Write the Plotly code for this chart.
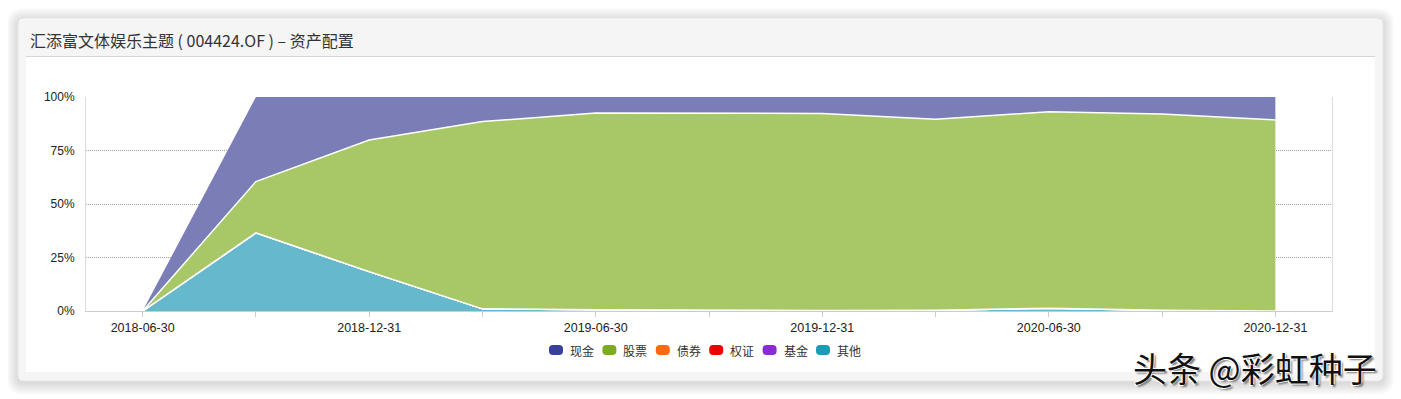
import plotly.graph_objects as go

# ---------------- data ----------------
dates = ["2018-06-30", "2018-09-30", "2018-12-31", "2019-03-31", "2019-06-30", "2019-09-30",
         "2019-12-31", "2020-03-31", "2020-06-30", "2020-09-30", "2020-12-31"]
tick_labels = ["2018-06-30", "", "2018-12-31", "", "2019-06-30", "", "2019-12-31", "",
               "2020-06-30", "", "2020-12-31"]
other = [0, 36.5, 18.4, 1.0, 0.6, 0.3, 0.2, 0.3, 1.3, 0.3, 0.0]
fund = [0, 0, 0, 0, 0, 0, 0, 0, 0, 0, 0]
warrant = [0, 0, 0, 0, 0, 0, 0, 0, 0, 0, 0]
bond = [0, 0, 0, 0, 0, 0, 0, 0, 0, 0, 0]
stock = [0, 24.0, 61.5, 87.5, 91.9, 92.0, 92.1, 89.3, 91.8, 91.8, 89.3]
cash = [0, 39.5, 20.1, 11.5, 7.5, 7.7, 7.7, 10.4, 6.9, 7.9, 10.7]

legend_names = ["现金", "股票", "债券", "权证", "基金", "其他"]
legend_colors = ["#3a3f9c", "#7cac1e", "#ff6a10", "#ee0000", "#8a2bd8", "#1b9cb6"]
fill_colors = {"现金": "#7b7db7", "股票": "#a8c766", "债券": "#ffa670",
               "权证": "#f56666", "基金": "#b980e6", "其他": "#66b8cd"}
y_ticks = [0, 25, 50, 75, 100]
y_tick_labels = ["0%", "25%", "50%", "75%", "100%"]

title_text = "汇添富文体娱乐主题 ( 004424.OF ) – 资产配置"
watermark = "头条 @彩虹种子"

# ---------------- geometry (page pixels) ----------------
OFF = 8  # page body margin
W, H = 1401 - OFF, 399 - OFF
PX0, PX1, PY0, PY1 = 86, 1332, 97, 311  # plot area in page pixels


def fx(px):
    return (px - PX0) / (PX1 - PX0)


def fy(py):
    return (PY1 - py) / (PY1 - PY0)


def rrect(x0, y0, x1, y1, r):
    pts = [
        f"M {fx(x0 + r)},{fy(y0)}", f"L {fx(x1 - r)},{fy(y0)}",
        f"Q {fx(x1)},{fy(y0)} {fx(x1)},{fy(y0 + r)}", f"L {fx(x1)},{fy(y1 - r)}",
        f"Q {fx(x1)},{fy(y1)} {fx(x1 - r)},{fy(y1)}", f"L {fx(x0 + r)},{fy(y1)}",
        f"Q {fx(x0)},{fy(y1)} {fx(x0)},{fy(y1 - r)}", f"L {fx(x0)},{fy(y0 + r)}",
        f"Q {fx(x0)},{fy(y0)} {fx(x0 + r)},{fy(y0)}", "Z",
    ]
    return " ".join(pts)


FONT = "Liberation Sans, Noto Sans CJK SC, sans-serif"

fig = go.Figure()

stack_order = [("其他", other), ("基金", fund), ("权证", warrant), ("债券", bond),
               ("股票", stock), ("现金", cash)]
for name, vals in stack_order:
    fig.add_trace(go.Scatter(
        x=dates, y=vals, name=name, stackgroup="one", mode="lines",
        line=dict(color="white", width=1.5 if name != "现金" else 0),
        fillcolor=fill_colors[name], showlegend=False,
        hovertemplate=name + ": %{y}%<extra></extra>",
    ))

shapes = []
# soft card shadow
for d in range(12, 0, -1):
    shapes.append(dict(type="path", xref="paper", yref="paper",
                       path=rrect(18 - d, 18 - d + 2, 1383 + d, 381 + d + 2, 6 + d),
                       line=dict(width=0), fillcolor="rgba(0,0,0,0.010)", layer="below"))
# card body
shapes.append(dict(type="path", xref="paper", yref="paper",
                   path=rrect(18, 18, 1383, 381, 6),
                   line=dict(color="#e6e6e6", width=1), fillcolor="#f5f5f5", layer="below"))
# header separator
shapes.append(dict(type="line", xref="paper", yref="paper",
                   x0=fx(26), x1=fx(1375), y0=fy(56.5), y1=fy(56.5),
                   line=dict(color="#d6d6d6", width=1), layer="below"))
# inner white panel
shapes.append(dict(type="rect", xref="paper", yref="paper",
                   x0=fx(26), x1=fx(1375), y0=fy(372), y1=fy(57),
                   line=dict(width=0), fillcolor="#ffffff", layer="below"))

annotations = [
    dict(text=title_text, xref="paper", yref="paper", x=fx(28), y=fy(40),
         xanchor="left", yanchor="middle", showarrow=False,
         font=dict(family="Noto Sans CJK SC, sans-serif", size=16, color="#333333")),
    dict(text=watermark, xref="paper", yref="paper", x=fx(1131), y=fy(367),
         xanchor="left", yanchor="middle", showarrow=False,
         font=dict(family="Noto Sans CJK SC, sans-serif", size=34, color="#111111",
                   shadow="-1px -1px 0 #fff, 1px -1px 0 #fff, -1px 1px 0 #fff, 2px 2px 2px #777")),
]

# custom legend
lx0, lstep, ly = 549, 53.4, 350
for i, (nm, col) in enumerate(zip(legend_names, legend_colors)):
    x = lx0 + i * lstep
    shapes.append(dict(type="path", xref="paper", yref="paper",
                       xsizemode="pixel", ysizemode="pixel",
                       xanchor=fx(x), yanchor=fy(ly),
                       path="M 4 -5 L 10 -5 Q 14 -5 14 -1 L 14 1 Q 14 5 10 5 L 4 5 Q 0 5 0 1 L 0 -1 Q 0 -5 4 -5 Z",
                       fillcolor=col, line=dict(width=0)))
    annotations.append(dict(text=nm, xref="paper", yref="paper", x=fx(x + 19), y=fy(ly),
                            xanchor="left", yanchor="middle", showarrow=False,
                            font=dict(family="Noto Sans CJK SC, sans-serif", size=12, color="#333333")))

fig.update_layout(
    width=W, height=H, autosize=False,
    margin=dict(l=PX0 - OFF, r=1401 - PX1, t=PY0 - OFF, b=399 - PY1, pad=0),
    paper_bgcolor="#ffffff", plot_bgcolor="rgba(0,0,0,0)",
    font=dict(family=FONT, size=12, color="#222222"),
    shapes=shapes, annotations=annotations, showlegend=False,
    xaxis=dict(type="category", range=[-0.5, len(dates) - 0.5],
               tickmode="array", tickvals=dates, ticktext=tick_labels,
               ticks="outside", ticklen=5, tickcolor="#cccccc", tickwidth=1,
               showline=True, linecolor="#cccccc", linewidth=1,
               showgrid=False, zeroline=False,
               tickfont=dict(family=FONT, size=12.5, color="#222222")),
    yaxis=dict(range=[0, 100], tickmode="array", tickvals=y_ticks, ticktext=y_tick_labels,
               showgrid=True, gridcolor="#a0a0a0", griddash="1px,1px", gridwidth=1,
               showline=True, linecolor="#dddddd", linewidth=1, mirror=True,
               zeroline=False, ticks="", ticklabelstandoff=8,
               tickfont=dict(family=FONT, size=12, color="#222222")),
)

fig.write_html("out.html")
